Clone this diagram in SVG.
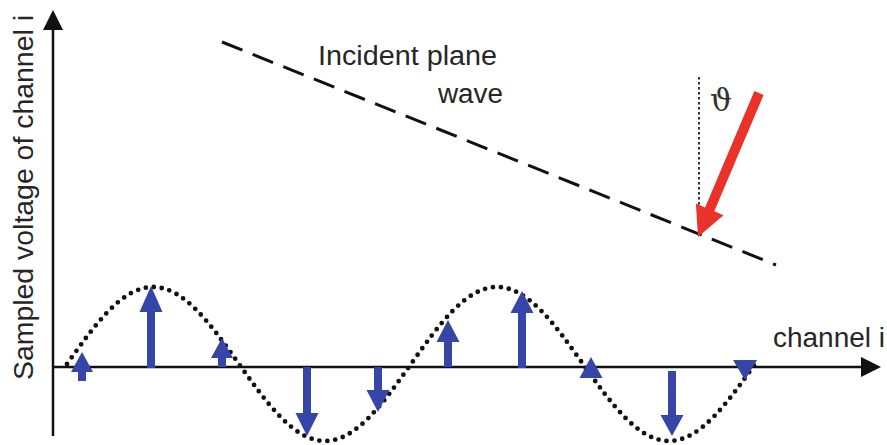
<svg xmlns="http://www.w3.org/2000/svg" width="887" height="445" viewBox="0 0 887 445">
<style>
.lbl{font-family:"Liberation Sans",Arial,sans-serif;font-size:27px;fill:#262626}
.axis{stroke:#111;stroke-width:2.5;fill:none}
.samp{fill:#3545a8}
</style>
<rect width="887" height="445" fill="#fff"/>
<g id="axes">
<line class="axis" x1="53" y1="436" x2="53" y2="26"/>
<polygon points="53,10 43,30 63,30" fill="#111"/>
<line class="axis" x1="53" y1="367" x2="864" y2="367"/>
<polygon points="881,367 861,357 861,377" fill="#111"/>
</g>
<g id="labels">
<text class="lbl" transform="translate(33,380) rotate(-90)" textLength="365" lengthAdjust="spacingAndGlyphs">Sampled voltage of channel i</text>
<text class="lbl" x="773" y="347" textLength="112" lengthAdjust="spacingAndGlyphs">channel i</text>
<text class="lbl" x="318" y="65" textLength="179" lengthAdjust="spacingAndGlyphs">Incident plane</text>
<text class="lbl" x="438" y="103" textLength="65" lengthAdjust="spacingAndGlyphs">wave</text>
<text x="710" y="111" font-family="DejaVu Serif,serif" font-size="31" fill="#333">ϑ</text>
</g>
<g id="wave">
<path d="M67,364 C95.05,324.6 121.88,287 153,287 C184.12,287 210.95,324.6 239,364 C267.05,403.4 293.88,441 325,441 C356.12,441 382.95,403.4 411,364 C439.05,324.6 465.88,287 497,287 C528.12,287 554.95,324.6 583,364 C611.05,403.4 637.88,441 669,441 C700.12,441 726.95,403.4 755,364" fill="none" stroke="#111" stroke-width="4.8" stroke-linecap="round" stroke-dasharray="0 8"/>
</g>
<g id="plane-wave">
<line x1="222" y1="42" x2="776" y2="265" stroke="#111" stroke-width="3" stroke-dasharray="22 11"/>
<line x1="699" y1="77" x2="699" y2="236" stroke="#333" stroke-width="2" stroke-dasharray="2.5 2.5"/>
<polygon points="754.4,91.05 763.6,94.95 714.3,211.35 723.5,215.25 698,237 695.9,203.5 705.1,207.45" fill="#e8322a"/>
</g>
<g id="samples">
<polygon class="samp" points="78,381 78,372 71,372 82,352 93,372 86,372 86,381"/>
<polygon class="samp" points="147,368 147,312 139.5,312 151,286 162.5,312 155,312 155,368"/>
<polygon class="samp" points="218,367 218,358 211,358 222,338 233,358 226,358 226,367"/>
<polygon class="samp" points="303,367 303,413 295.5,413 307,436 318.5,413 311,413 311,367"/>
<polygon class="samp" points="374,367 374,390 366.5,390 378,412 389.5,390 382,390 382,367"/>
<polygon class="samp" points="444,367 444,342 436.5,342 448,320 459.5,342 452,342 452,367"/>
<polygon class="samp" points="518,368 518,313 510.5,313 522,291 533.5,313 526,313 526,368"/>
<polygon class="samp" points="591,357 579.5,378 602.5,378"/>
<polygon class="samp" points="668,371 668,415 660.5,415 672,436 683.5,415 676,415 676,371"/>
<polygon class="samp" points="733,360 757,360 745,380"/>
</g>
</svg>
